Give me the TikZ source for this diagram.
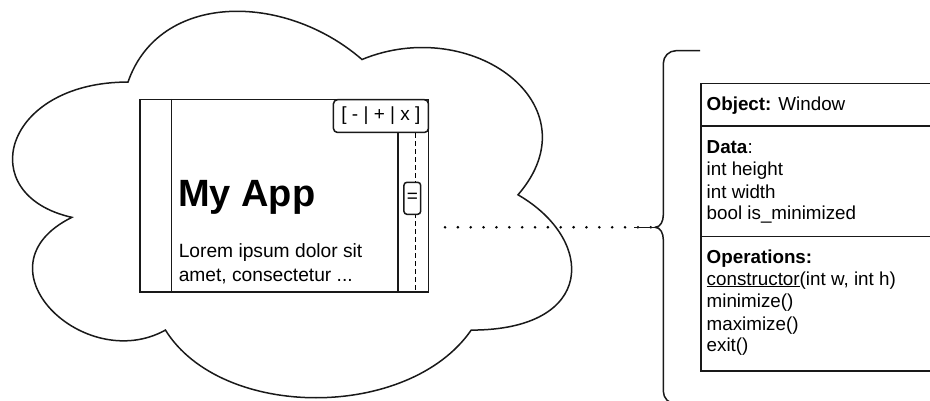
\documentclass[tikz,border=0pt]{standalone}
\usepackage{fontspec}
\setmainfont{Liberation Sans}
\begin{document}
\begin{tikzpicture}[x=1pt,y=-1pt,
  stroke/.style={line width=1.5pt,draw=black!90},
  body/.style={font=\fontsize{18.8}{22.3}\selectfont},
  textline/.style={body,inner sep=0pt,anchor=base west},
]
\useasboundingbox (0,0) rectangle (930,401);
\clip (0,0) rectangle (930,401);

% cloud around the application window
\draw[stroke] (128,82.05) .. controls (3.2,82.05) and (-28,194.8) .. (71.84,217.35)
  .. controls (-28,266.96) and (84.32,375.2) .. (165.44,330.1)
  .. controls (221.6,420.3) and (408.8,420.3) .. (471.2,330.1)
  .. controls (596,330.1) and (596,239.9) .. (518,194.8)
  .. controls (596,104.6) and (471.2,14.4) .. (362,59.5)
  .. controls (284,-8.15) and (159.2,-8.15) .. cycle;

% application window mock-up
\node[stroke,draw,fill=white,minimum width=288.4pt,minimum height=192pt,inner sep=0pt,anchor=north west] (win) at (139.3,99) {};
\draw[stroke] ([xshift=32.4pt]win.north west) -- ([xshift=32.4pt]win.south west);
\node[stroke,draw,fill=white,rounded corners=4pt,minimum width=95pt,minimum height=32.7pt,inner sep=0pt,anchor=north east,
      font=\fontsize{19}{21}\selectfont] (ctl) at (win.north east) {[ - | + | x ]};
\draw[stroke] ([xshift=-31pt]win.south east) -- ([xshift=-31pt]win.south east |- ctl.south);
\draw[line width=1.3pt,dash pattern=on 4.8pt off 3.2pt] ([xshift=-13.4pt]win.south east |- ctl.south) -- ([xshift=-13.4pt]win.south east);
\node[stroke,draw,fill=white,rounded corners=3pt,minimum width=16.7pt,minimum height=32pt,inner sep=0pt,
      font=\fontsize{19}{21}\selectfont] (thumb) at (412.3,198.3) {=};
\node[textline,font=\bfseries\fontsize{38}{45}\selectfont] (apptitle) at (178,206.7) {My App};
\node[textline,font=\fontsize{19.2}{23}\selectfont] (lorem1) at (178.6,258) {Lorem ipsum dolor sit};
\node[textline,font=\fontsize{19.2}{23}\selectfont] (lorem2) at (178.6,281.7) {amet, consectetur ...};

% curly brace
\coordinate (tip) at (655,227.3);
\draw[stroke,line join=round] (700,50.7) -- (676,50.7) to[out=180,in=90] (663.3,63.4) -- (663.3,215)
  to[out=-90,in=0] (tip) to[out=0,in=90] (663.3,239.6) -- (663.3,391.2)
  to[out=-90,in=180] (676,403.9) -- (700,403.9);

% dotted link from the window to the brace
\coordinate (linkstart) at (445,227.3);
\draw[line width=2.9pt,line cap=round,dash pattern=on 0pt off 12.86pt] (linkstart) -- (tip);
\draw[stroke] ([xshift=-21pt]tip) -- (tip);

% object description table
\node[stroke,draw,fill=white,minimum width=250pt,minimum height=287.3pt,inner sep=0pt,anchor=north west] (tbl) at (700,82.7) {};
\draw[stroke] (700,126) -- (950,126);
\draw[stroke] (700,236.7) -- (950,236.7);
\node[textline] (obj) at (706.5,111) {\textbf{Object:} Window};
\node[textline] (data) at (706.5,153.3) {\textbf{Data}:};
\node[textline] (d1) at (706.5,175.7) {int height};
\node[textline] (d2) at (706.5,198.3) {int width};
\node[textline] (d3) at (706.5,220) {bool is\_minimized};
\node[textline] (ops) at (706.5,263.3) {\textbf{Operations:}};
\node[textline] (o1) at (706.5,285) {\underline{constructor}(int w, int h)};
\node[textline] (o2) at (706.5,307.7) {minimize()};
\node[textline] (o3) at (706.5,330) {maximize()};
\node[textline] (o4) at (706.5,351.7) {exit()};
\end{tikzpicture}
\end{document}
